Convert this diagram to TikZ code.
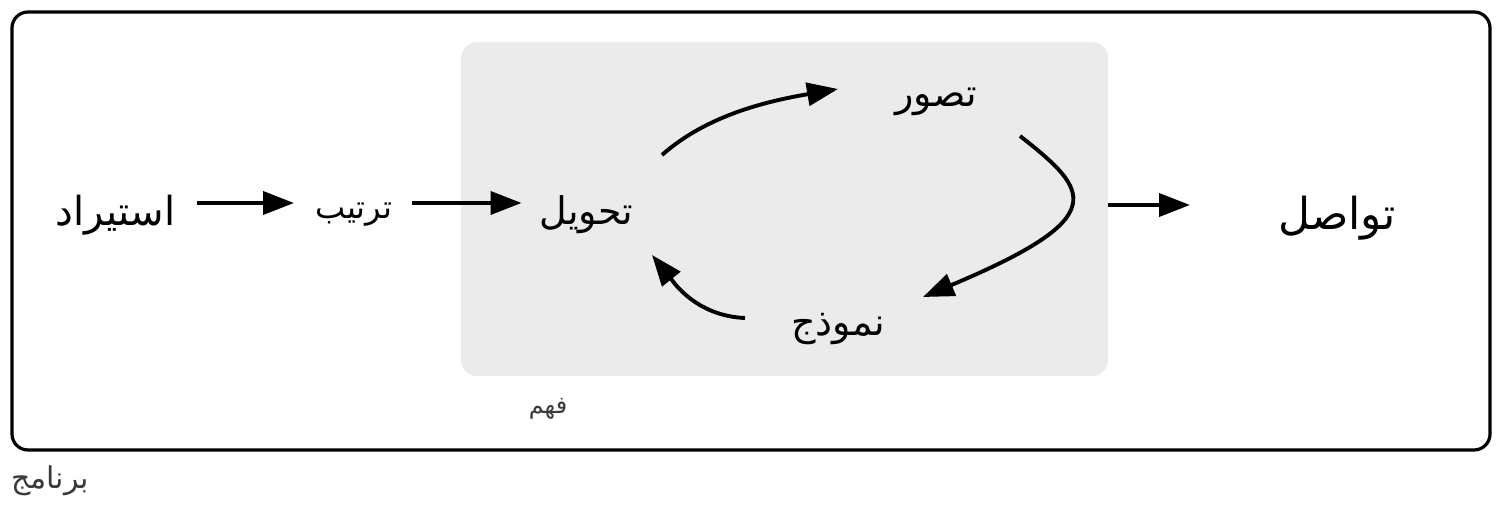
\documentclass[tikz,border=0pt]{standalone}
\usepackage{fontspec}
\usetikzlibrary{arrows.meta}
\TeXXeTstate=1
\newfontfamily\arfont[Script=Arabic]{DejaVu Sans}
\definecolor{boxgray}{HTML}{EBEBEB}
\definecolor{labgray}{HTML}{3A3A3A}
\tikzset{
  lab/.style={inner sep=0pt, font=\arfont},
  arr/.style={line width=3.9pt, -{Triangle[length=31pt,width=23pt]}},
}
\newcommand{\ar}[1]{\beginR #1\endR}
\begin{document}
\begin{tikzpicture}[x=1pt,y=1pt]
\useasboundingbox (0,0) rectangle (1504,508);
\node[draw=black, line width=3.2pt, rounded corners=16pt, minimum width=1478pt, minimum height=438pt, inner sep=0pt] (prog) at (751,277) {};
\node[fill=boxgray, rounded corners=16pt, minimum width=647pt, minimum height=334pt, inner sep=0pt] (und) at (784.5,299) {};
\node[lab, font=\arfont\fontsize{40}{40}\selectfont] (imp) at (115.5,293) {\ar{استيراد}};
\node[lab, font=\arfont\fontsize{32}{32}\selectfont] (tid) at (354,293) {\ar{ترتيب}};
\node[lab, font=\arfont\fontsize{38}{38}\selectfont] (trans) at (586.5,293) {\ar{تحويل}};
\node[lab, font=\arfont\fontsize{38}{38}\selectfont] (vis) at (936,406) {\ar{تصور}};
\node[lab, font=\arfont\fontsize{38}{38}\selectfont] (model) at (838,179) {\ar{نموذج}};
\node[lab, font=\arfont\fontsize{44}{44}\selectfont] (comm) at (1337,290) {\ar{تواصل}};
\node[lab, text=labgray, font=\arfont\fontsize{24}{24}\selectfont] (fahm) at (548,99) {\ar{فهم}};
\node[lab, text=labgray, font=\arfont\fontsize{30}{30}\selectfont] (progl) at (50,27) {\ar{برنامج}};
\draw[arr] ([shift={(81.5,12)}]imp.center) -- ([shift={(-60,12)}]tid.center);
\draw[arr] ([shift={(58,12)}]tid.center) -- ([shift={(-65,12)}]trans.center);
\draw[arr] ([yshift=4pt]und.east) -- ([shift={(-147,13)}]comm.center);
\draw[arr] ([shift={(75.5,60)}]trans.center) .. controls +(45,40) and +(-70,-12) .. ([shift={(-98,13)}]vis.center);
\draw[arr] ([shift={(84,-34)}]vis.center) .. controls +(70,-55) and +(190,80) .. ([shift={(85,32)}]model.center);
\draw[arr] ([shift={(-93,11)}]model.center) .. controls +(-50,2) and +(20,-25) .. ([shift={(65.5,-40)}]trans.center);
\end{tikzpicture}
\end{document}
